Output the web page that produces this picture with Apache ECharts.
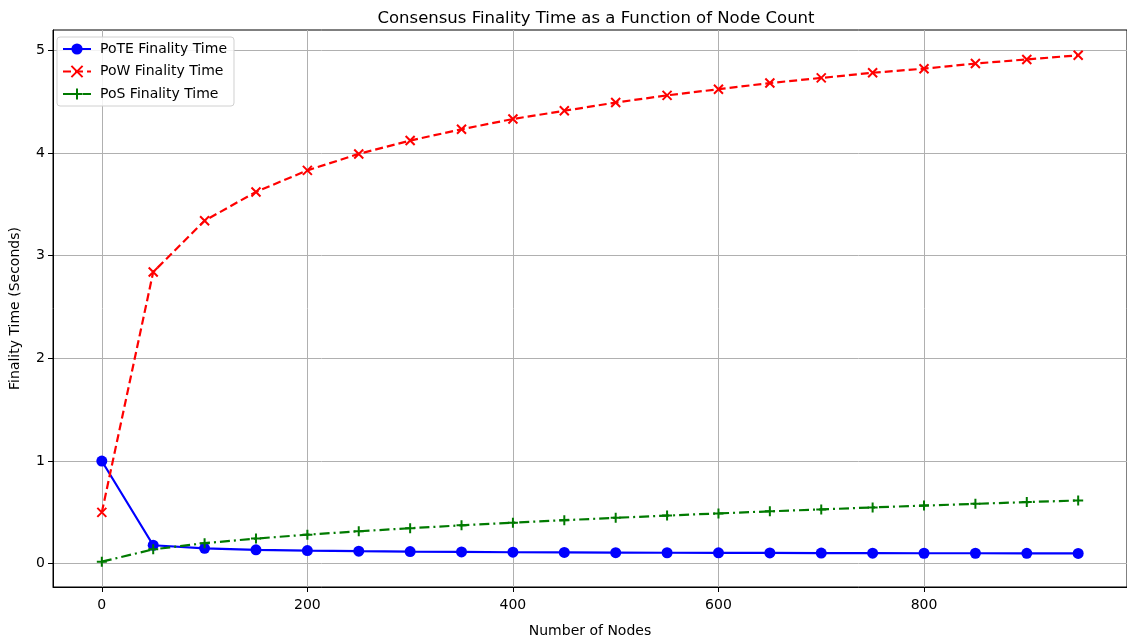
<!DOCTYPE html>
<html>
<head>
<meta charset="utf-8">
<script src="https://cdn.jsdelivr.net/npm/echarts@6/dist/echarts.min.js"></script>
<style>
html,body{margin:0;padding:0;background:#fff;}
#chart{width:1127px;height:643px;}
</style>
</head>
<body>
<div id="chart"></div>
<script>
// ---- data ----
var nodeCounts = [0, 50, 100, 150, 200, 250, 300, 350, 400, 450, 500, 550, 600, 650, 700, 750, 800, 850, 900, 950];
var poteTimes = [1.0, 0.18, 0.15, 0.135, 0.128, 0.122, 0.118, 0.115, 0.112, 0.11, 0.108, 0.107, 0.106, 0.105, 0.104, 0.103, 0.102, 0.102, 0.101, 0.1];
var powTimes  = [0.5, 2.84, 3.34, 3.62, 3.83, 3.99, 4.12, 4.23, 4.33, 4.41, 4.49, 4.56, 4.62, 4.68, 4.73, 4.78, 4.82, 4.87, 4.91, 4.95];
var posTimes  = [0.02, 0.14, 0.2, 0.245, 0.283, 0.316, 0.346, 0.374, 0.4, 0.424, 0.447, 0.469, 0.49, 0.51, 0.529, 0.548, 0.566, 0.583, 0.6, 0.616];
var xTicks = [0, 200, 400, 600, 800];
var yTicks = [0, 1, 2, 3, 4, 5];
var seriesNames = ['PoTE Finality Time', 'PoW Finality Time', 'PoS Finality Time'];

function pairs(xs, ys) { return xs.map(function (x, i) { return [x, ys[i]]; }); }

var FONT = 'DejaVu Sans';
var chart = echarts.init(document.getElementById('chart'), null, {renderer: 'canvas'});
chart.setOption({
  animation: false,
  backgroundColor: '#ffffff',
  textStyle: {fontFamily: FONT},
  title: {
    text: 'Consensus Finality Time as a Function of Node Count',
    left: 591, top: 5, textAlign: 'center',
    textStyle: {fontFamily: FONT, fontSize: 16.5, fontWeight: 'normal', color: '#000'}
  },
  legend: {
    orient: 'vertical', left: 57, top: 37,
    padding: [5, 7, 5, 5], itemGap: 8.5, itemWidth: 28, itemHeight: 14,
    backgroundColor: 'rgba(255,255,255,0.85)', borderColor: '#d0d0d0', borderWidth: 1, borderRadius: 3,
    textStyle: {fontFamily: FONT, fontSize: 14, color: '#000', padding: [0, 0, 0, 4]},
    data: seriesNames
  },
  grid: {left: 49, top: 30, width: 1084, height: 562, show: true, borderColor: '#000', borderWidth: 1, containLabel: false},
  xAxis: {
    type: 'value', min: -47.5, max: 997.5, splitNumber: 5,
    name: 'Number of Nodes', nameLocation: 'middle', nameGap: 37,
    nameTextStyle: {fontFamily: FONT, fontSize: 14, color: '#000'},
    axisLine: {show: true, onZero: false, lineStyle: {color: '#000', width: 1}},
    axisTick: {show: true, length: 5, lineStyle: {color: '#000'}, customValues: xTicks},
    axisLabel: {fontFamily: FONT, fontSize: 14, color: '#000', margin: 11, customValues: xTicks},
    splitLine: {show: true, lineStyle: {color: '#b0b0b0', width: 1}}
  },
  yAxis: {
    type: 'value', min: -0.2265, max: 5.1965, splitNumber: 5,
    name: 'Finality Time (Seconds)', nameLocation: 'middle', nameGap: 31, nameRotate: 90,
    nameTextStyle: {fontFamily: FONT, fontSize: 14, color: '#000'},
    axisLine: {show: true, onZero: false, lineStyle: {color: '#000', width: 1}},
    axisTick: {show: true, length: 5, lineStyle: {color: '#000'}, customValues: yTicks},
    axisLabel: {fontFamily: FONT, fontSize: 14, color: '#000', margin: 8, customValues: yTicks},
    splitLine: {show: true, lineStyle: {color: '#b0b0b0', width: 1}}
  },
  series: [
    {
      name: seriesNames[0], type: 'line', data: pairs(nodeCounts, poteTimes),
      symbol: 'circle', symbolSize: 11, showAllSymbol: true,
      lineStyle: {color: '#0000ff', width: 2.2},
      itemStyle: {color: '#0000ff'}
    },
    {
      name: seriesNames[1], type: 'line', data: pairs(nodeCounts, powTimes),
      symbol: 'path://M0,0L10,10M10,0L0,10', symbolSize: 9, showAllSymbol: true, symbolKeepAspect: true,
      lineStyle: {color: '#ff0000', width: 2.2, type: [8, 4]},
      itemStyle: {color: '#ff0000', borderColor: '#ff0000', borderWidth: 2}
    },
    {
      name: seriesNames[2], type: 'line', data: pairs(nodeCounts, posTimes),
      symbol: 'path://M5,0L5,10M0,5L10,5', symbolSize: 10, showAllSymbol: true, symbolKeepAspect: true,
      lineStyle: {color: '#007a00', width: 2.2, type: [10, 4, 2, 4]},
      itemStyle: {color: '#007a00', borderColor: '#007a00', borderWidth: 2}
    }
  ]
});
</script>
</body>
</html>
